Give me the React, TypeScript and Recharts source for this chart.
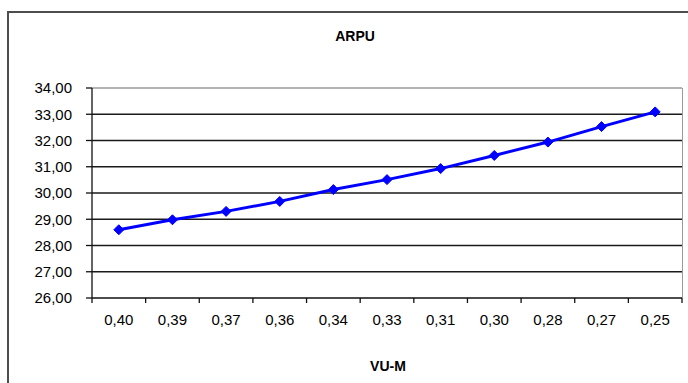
import React from 'react';
import {
  LineChart,
  Line,
  XAxis,
  YAxis,
  ReferenceLine,
} from 'recharts';

const categories = ['0,40', '0,39', '0,37', '0,36', '0,34', '0,33', '0,31', '0,30', '0,28', '0,27', '0,25'];
const arpu = [28.6, 28.98, 29.3, 29.68, 30.13, 30.51, 30.93, 31.43, 31.94, 32.53, 33.09];
const yTicks = [26, 27, 28, 29, 30, 31, 32, 33, 34];

const data = categories.map((vu, i) => ({ vu, arpu: arpu[i] }));

const W = 688;
const H = 383;
const PLOT_TOP = 88;
const PLOT_BOTTOM = 298;
const PLOT_LEFT = 92;
const PLOT_RIGHT = 682;
const HALF_BAND = (PLOT_RIGHT - PLOT_LEFT) / categories.length / 2;
const X_TICK_MARGIN = 16;
const FONT = 'Arial, "Liberation Sans", sans-serif';

const fmt = (v: number) => v.toFixed(2).replace('.', ',');

// Excel-style x ticks: marks sit on the category boundaries, labels in the middle
function XTick(props: any) {
  const { x, y, payload, index } = props;
  const axisY = y - X_TICK_MARGIN;
  return (
    <g>
      <line x1={x - HALF_BAND} x2={x - HALF_BAND} y1={axisY} y2={axisY + 5} stroke="#111" strokeWidth={1.3} />
      {index === categories.length - 1 && (
        <line x1={x + HALF_BAND} x2={x + HALF_BAND} y1={axisY} y2={axisY + 5} stroke="#111" strokeWidth={1.3} />
      )}
      <text x={x} y={y} dy="0.71em" textAnchor="middle" fontSize={15} fill="#000" fontFamily={FONT}>
        {payload.value}
      </text>
    </g>
  );
}

function Diamond(props: any) {
  const { cx, cy } = props;
  if (cx == null || cy == null) return null;
  const r = 5;
  return (
    <polygon
      points={`${cx},${cy - r} ${cx + r},${cy} ${cx},${cy + r} ${cx - r},${cy}`}
      fill="#0000ff"
      stroke="#0000ff"
    />
  );
}

export default function App() {
  return (
    <div
      style={{
        position: 'absolute',
        left: 0,
        top: 0,
        width: W,
        height: H,
        overflow: 'hidden',
        background: '#fff',
        fontFamily: FONT,
      }}
    >
      <div
        style={{
          position: 'absolute',
          left: 7,
          top: 11,
          width: 740,
          height: 440,
          border: '2px solid #4d4d4d',
        }}
      />
      <div
        style={{
          position: 'absolute',
          left: 255,
          width: 200,
          top: 27,
          textAlign: 'center',
          fontWeight: 'bold',
          fontSize: 14,
          lineHeight: '18px',
        }}
      >
        ARPU
      </div>
      <div
        style={{
          position: 'absolute',
          left: 288,
          width: 200,
          top: 357,
          textAlign: 'center',
          fontWeight: 'bold',
          fontSize: 14,
          lineHeight: '18px',
        }}
      >
        VU-M
      </div>
      {/* grey plot-area border on the right */}
      <div
        style={{
          position: 'absolute',
          left: PLOT_RIGHT - 0.5,
          top: PLOT_TOP,
          width: 0,
          height: PLOT_BOTTOM - PLOT_TOP,
          borderLeft: '1.5px solid #9a9a9a',
        }}
      />
      <div style={{ position: 'absolute', left: 0, top: 0 }}>
        <LineChart width={W} height={H} data={data} margin={{ top: PLOT_TOP, right: W - PLOT_RIGHT, bottom: 0, left: 0 }}>
          {yTicks.slice(1, -1).map((t) => (
            <ReferenceLine key={t} y={t} stroke="#1a1a1a" strokeWidth={1.3} />
          ))}
          <ReferenceLine y={34} stroke="#9a9a9a" strokeWidth={1.5} />
          <XAxis
            dataKey="vu"
            height={H - PLOT_BOTTOM}
            padding={{ left: HALF_BAND, right: HALF_BAND }}
            axisLine={{ stroke: '#111', strokeWidth: 1.3 }}
            tickLine={false}
            tickSize={0}
            tickMargin={X_TICK_MARGIN}
            interval={0}
            tick={<XTick />}
          />
          <YAxis
            width={PLOT_LEFT}
            domain={[26, 34]}
            ticks={yTicks}
            interval={0}
            tickFormatter={fmt}
            axisLine={{ stroke: '#111', strokeWidth: 1.3 }}
            tickLine={{ stroke: '#111', strokeWidth: 1.3 }}
            tickSize={6}
            tickMargin={14}
            tick={{ fontSize: 15, fill: '#000', fontFamily: FONT }}
          />
          <Line
            dataKey="arpu"
            stroke="#0000ff"
            strokeWidth={3}
            dot={<Diamond />}
            activeDot={false}
            isAnimationActive={false}
          />
        </LineChart>
      </div>
    </div>
  );
}
